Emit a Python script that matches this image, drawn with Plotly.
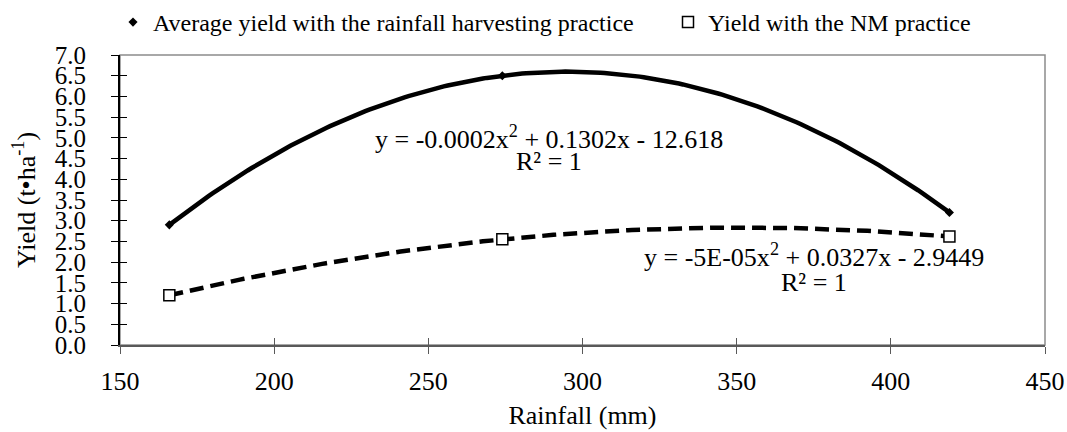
import numpy as np
import plotly.graph_objects as go

rainfall = [166, 274, 419]
avg_yield_rwh = [2.9, 6.5, 3.2]
yield_nm = [1.2, 2.55, 2.62]
series_names = ["Average yield with the rainfall harvesting practice", "Yield with the NM practice"]
eq_rwh = ["y = -0.0002x<sup>2</sup> + 0.1302x - 12.618", "R² = 1"]
eq_nm = ["y = -5E-05x<sup>2</sup> + 0.0327x - 2.9449", "R² = 1"]
x_ticks = [150, 200, 250, 300, 350, 400, 450]
y_ticks = [round(0.5 * i, 1) for i in range(15)]

FAM = "Liberation Serif"

def F(size):
    return dict(family=FAM, size=size, color="black")

def trend(xs, ys):
    c = np.polyfit(xs, ys, 2)
    xx = np.linspace(min(xs), max(xs), 200)
    return xx, np.polyval(c, xx)

fig = go.Figure()
tx, ty = trend(rainfall, avg_yield_rwh)
fig.add_trace(go.Scatter(x=tx, y=ty, mode="lines", line=dict(color="black", width=4.5),
                         showlegend=False, hoverinfo="skip"))
tx2, ty2 = trend(rainfall, yield_nm)
fig.add_trace(go.Scatter(x=tx2, y=ty2, mode="lines", line=dict(color="black", width=4.5, dash="14px,7px"),
                         showlegend=False, hoverinfo="skip"))
fig.add_trace(go.Scatter(x=rainfall, y=avg_yield_rwh, mode="markers", name=series_names[0],
                         marker=dict(symbol="diamond", size=7, color="black"), legend="legend"))
fig.add_trace(go.Scatter(x=rainfall, y=yield_nm, mode="markers", name=series_names[1],
                         marker=dict(symbol="square", size=11, color="white",
                                     line=dict(color="black", width=1.5)), legend="legend2"))
# invisible trace so the overlay axes (inner half of crossing ticks) are drawn
fig.add_trace(go.Scatter(x=[None], y=[None], xaxis="x2", yaxis="y2", showlegend=False,
                         hoverinfo="skip"))

fig.add_annotation(x=289, y=5.02, text=eq_rwh[0], showarrow=False, font=F(26))
fig.add_annotation(x=289, y=4.42, text=eq_rwh[1], showarrow=False, font=F(26))
fig.add_annotation(x=375, y=2.17, text=eq_nm[0], showarrow=False, font=F(26))
fig.add_annotation(x=375, y=1.5, text=eq_nm[1], showarrow=False, font=F(26))

leg_common = dict(orientation="h", y=1.0, yanchor="top", yref="container", xref="container",
                  xanchor="left", font=F(24), itemwidth=30, bgcolor="rgba(0,0,0,0)")
fig.update_layout(
    width=1067, height=432,
    margin=dict(l=120, r=22, t=55, b=87, autoexpand=False),
    paper_bgcolor="white", plot_bgcolor="white",
    font=F(24),
    legend=dict(x=113 / 1067, **leg_common),
    legend2=dict(x=668 / 1067, **leg_common),
    xaxis=dict(range=[150, 450], tickvals=x_ticks, ticks="outside", ticklen=7, tickcolor="#595959",
               showline=True, linecolor="#595959", linewidth=2, showgrid=False, zeroline=False,
               ticklabelstandoff=5,
               title=dict(text="Rainfall (mm)", font=F(26), standoff=11),
               tickfont=F(26)),
    yaxis=dict(range=[0, 7], tickvals=y_ticks, tickformat=".1f", ticks="outside", ticklen=7,
               tickcolor="black", showline=True, linecolor="black", linewidth=2, showgrid=False,
               zeroline=False, ticklabelstandoff=20,
               title=dict(text="Yield (t•ha<sup>-1</sup>)", font=F(26), standoff=12),
               tickfont=F(25)),
    xaxis2=dict(overlaying="x", range=[150, 450], tickvals=x_ticks, ticks="inside", ticklen=7,
                tickcolor="#595959", showticklabels=False, showgrid=False, zeroline=False,
                anchor="y2", side="bottom"),
    yaxis2=dict(overlaying="y", range=[0, 7], tickvals=y_ticks, ticks="inside", ticklen=7,
                tickcolor="black", showticklabels=False, showgrid=False, zeroline=False,
                anchor="x2", side="left"),
    shapes=[dict(type="rect", xref="paper", yref="paper", x0=0, x1=1, y0=0, y1=1,
                 line=dict(color="#8c8c8c", width=1.5), layer="below")],
)
fig.write_html("out.html")
